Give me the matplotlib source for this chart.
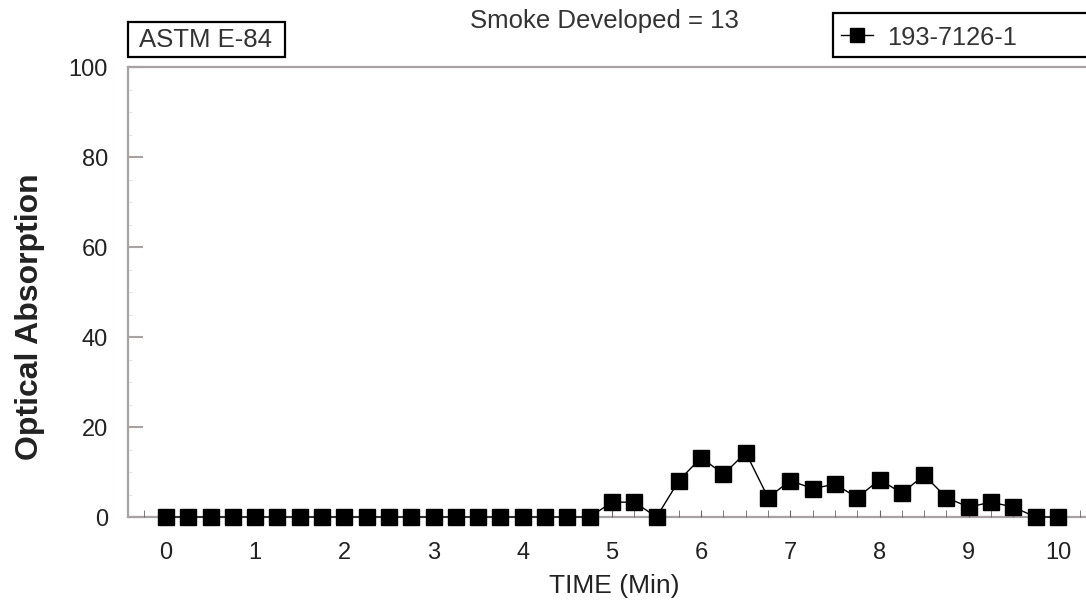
import matplotlib
matplotlib.use("Agg")
import matplotlib.pyplot as plt
from matplotlib.ticker import MultipleLocator
from matplotlib.lines import Line2D
from matplotlib.patches import Rectangle

time_min = [i * 0.25 for i in range(41)]
absorption = [0]*20 + [3.3, 3.3, 0, 8.1, 13.2, 9.5, 14.3, 4.3, 8.1, 6.3, 7.3, 4.3,
                       8.3, 5.3, 9.3, 4.3, 2.2, 3.3, 2.2, 0, 0]
series_name = "193-7126-1"
x_ticks = list(range(0, 11))
y_ticks = [0, 20, 40, 60, 80, 100]

plt.rcParams['font.family'] = ['Liberation Sans', 'DejaVu Sans']

W, H = 1086, 601
def fx(px):
    return px / W
def fy(py):
    return 1 - py / H

fig = plt.figure(figsize=(W/100, H/100), dpi=100)
ax = fig.add_axes([fx(128), 84/H, 1 - fx(128), 450/H])

spine_c = '#a8a2a2'
text_c = '#222222'
ax.plot(time_min, absorption, color='black', linewidth=1.0, marker='s',
        markersize=11.5, markerfacecolor='black', markeredgecolor='black',
        clip_on=False, zorder=3)

ax.set_xlim(-0.426, 10.314)
ax.set_ylim(0, 100)
ax.set_xticks(x_ticks)
ax.set_yticks(y_ticks)
ax.xaxis.set_minor_locator(MultipleLocator(0.25))
ax.yaxis.set_minor_locator(MultipleLocator(5))

for s in ['left', 'bottom', 'top']:
    ax.spines[s].set_color(spine_c)
    ax.spines[s].set_linewidth(1.6)
ax.spines['right'].set_visible(False)
ax.spines['bottom'].set_zorder(1)

ax.tick_params(axis='x', which='major', direction='in', length=5, color='#666666',
               labelsize=17, pad=18, labelcolor=text_c)
ax.tick_params(axis='x', which='minor', direction='in', length=5, color='#666666')
ax.tick_params(axis='y', which='major', direction='in', length=11, width=1.5,
               color=spine_c, labelsize=17, pad=14.5, labelcolor=text_c)
ax.tick_params(axis='y', which='minor', direction='in', length=3, color='#dddddd')
ax.tick_params(top=False, right=False, which='both')

ax.set_xlabel("TIME (Min)", fontsize=19, color=text_c, va='baseline', ha='center')
ax.xaxis.set_label_coords((614 - 128) / 958, (517 - 593) / 450)
ax.set_ylabel("Optical Absorption", fontsize=23, fontweight='bold', color=text_c,
              va='center', ha='center')
ax.yaxis.set_label_coords((30 - 128) / 958, (517 - 317) / 450)

fig.text(fx(604), fy(28), "Smoke Developed = 13", ha='center', va='baseline',
         fontsize=18.5, color='#333333')

# ASTM label box
fig.add_artist(Rectangle((fx(128), fy(57)), fx(285) - fx(128), fy(22) - fy(57),
                         transform=fig.transFigure, facecolor='white',
                         edgecolor='black', linewidth=1.6))
fig.text(fx(139), fy(47), "ASTM E-84", ha='left', va='baseline', fontsize=18.5,
         color='#333333')

# Legend box (extends past the right edge, as in the original)
fig.add_artist(Rectangle((fx(833), fy(57)), fx(1110) - fx(833), fy(13) - fy(57),
                         transform=fig.transFigure, facecolor='white',
                         edgecolor='black', linewidth=1.6, clip_on=False))
fig.add_artist(Line2D([fx(841), fx(873)], [fy(35), fy(35)], transform=fig.transFigure,
                      color='black', linewidth=1.0))
fig.add_artist(Line2D([fx(857)], [fy(35)], transform=fig.transFigure, color='black',
                      marker='s', markersize=10.5, linestyle='none'))
fig.text(fx(887), fy(45), series_name, ha='left', va='baseline', fontsize=18.3,
         color='#333333')

fig.savefig("out.png", dpi=100)
